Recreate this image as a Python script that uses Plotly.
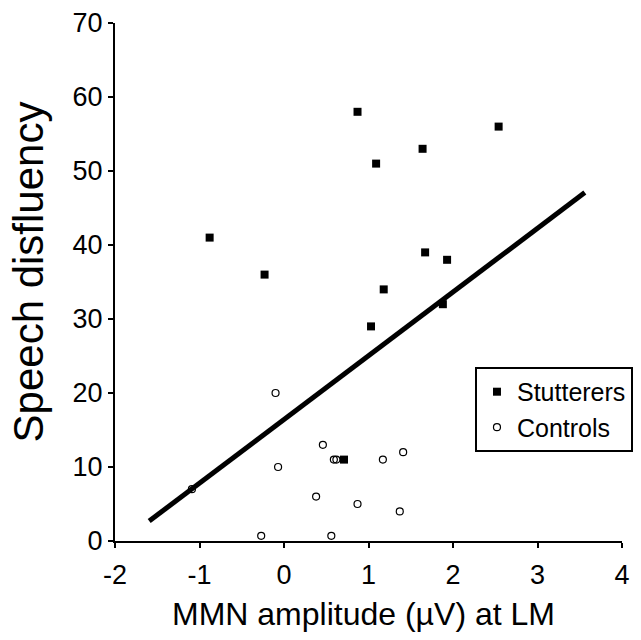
import plotly.graph_objects as go

# Stutterers
stut_x = [0.87, 1.64, 1.09, -0.88, -0.23, 1.67, 1.93, 1.18, 1.03, 1.88, 2.54, 0.71]
stut_y = [58, 53, 51, 41, 36, 39, 38, 34, 29, 32, 56, 11]

# Controls
ctrl_x = [-0.10, 0.46, 0.59, 0.62, 1.17, 1.41, -0.07, -1.09, 0.38, 0.87, 1.37, -0.27, 0.56]
ctrl_y = [20, 13, 11, 11, 11, 12, 10, 7, 6, 5, 4, 0.7, 0.7]

# Regression line
fit_slope = 8.61
fit_intercept = 16.43
fit_x = [-1.595, 3.56]
fit_y = [fit_intercept + fit_slope * v for v in fit_x]

x_ticks = [-2, -1, 0, 1, 2, 3, 4]
y_ticks = [0, 10, 20, 30, 40, 50, 60, 70]

x_title = "MMN amplitude (µV) at LM"
y_title = "Speech disfluency"

FONT = "Liberation Sans, Arial, sans-serif"

fig = go.Figure()
fig.add_trace(go.Scatter(
    x=fit_x, y=fit_y, mode="lines",
    line=dict(color="black", width=5),
    showlegend=False, hoverinfo="skip"))
fig.add_trace(go.Scatter(
    x=stut_x, y=stut_y, mode="markers", name="Stutterers",
    marker=dict(symbol="square", size=8, color="black")))
fig.add_trace(go.Scatter(
    x=ctrl_x, y=ctrl_y, mode="markers", name="Controls",
    marker=dict(symbol="circle-open", size=7, color="black",
                line=dict(width=1.2, color="black"))))

fig.update_layout(
    width=641, height=640,
    margin=dict(l=115, r=8, t=23, b=99),
    paper_bgcolor="white", plot_bgcolor="white",
    font=dict(family=FONT, color="black"),
    xaxis=dict(
        range=[-2, 4], tickvals=x_ticks, ticktext=[str(t) for t in x_ticks],
        showgrid=False, zeroline=False, showline=True, linecolor="black", linewidth=2,
        ticks="outside", ticklen=5, tickwidth=2, tickcolor="black",
        ticklabelstandoff=4,
        tickfont=dict(size=27, family=FONT),
    ),
    yaxis=dict(
        range=[0, 70], tickvals=y_ticks, ticktext=[str(t) for t in y_ticks],
        showgrid=False, zeroline=False, showline=True, linecolor="black", linewidth=2,
        ticks="outside", ticklen=5, tickwidth=2, tickcolor="black",
        tickfont=dict(size=27, family=FONT),
    ),
    legend=dict(
        x=0.71, y=0.336, xanchor="left", yanchor="top",
        bordercolor="black", borderwidth=2, bgcolor="white",
        font=dict(size=25, family=FONT), itemsizing="trace",
        tracegroupgap=0,
    ),
    annotations=[
        dict(text=x_title, xref="paper", yref="paper", x=0.49, y=-0.14,
             xanchor="center", yanchor="middle", showarrow=False,
             font=dict(size=32, family=FONT, color="black")),
        dict(text=y_title, xref="paper", yref="paper", x=-0.17, y=0.52,
             xanchor="center", yanchor="middle", showarrow=False, textangle=-90,
             font=dict(size=42, family=FONT, color="black")),
    ],
)

fig.write_html("out.html")
